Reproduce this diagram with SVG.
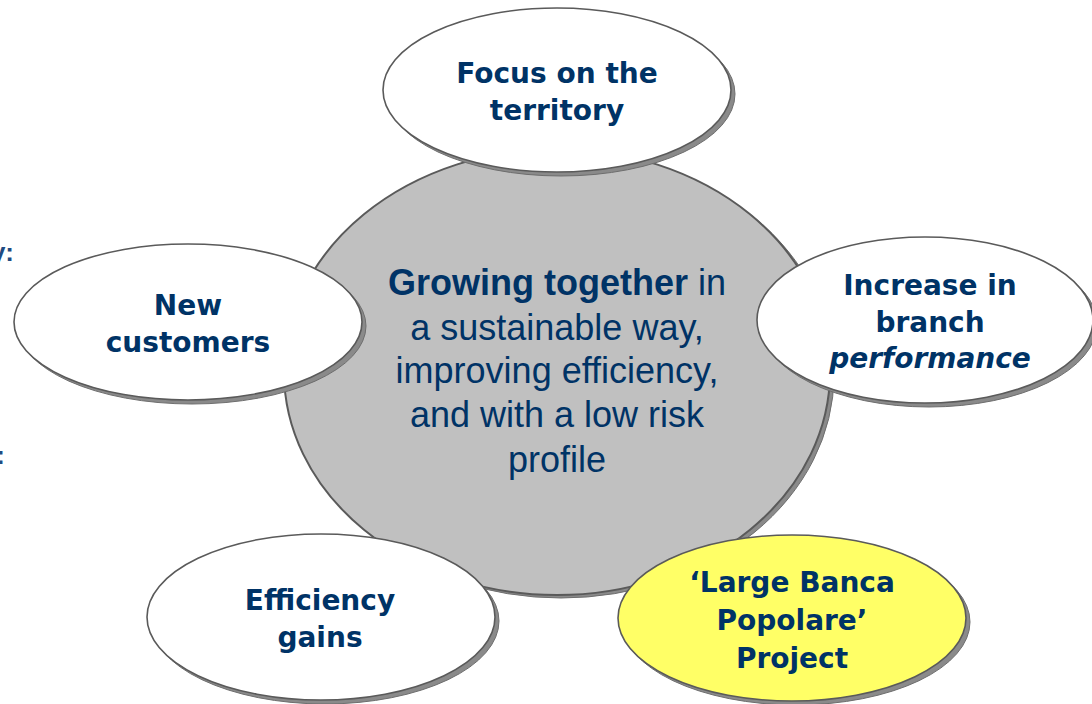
<svg xmlns="http://www.w3.org/2000/svg" width="1092" height="704" viewBox="0 0 1092 704">
<style>
.shadow{fill:#8a8a8a;stroke:#6e6e6e;stroke-width:1}
.node{fill:#ffffff;stroke:#5a5a5a;stroke-width:1.6}
.hub{fill:#c0c0c0;stroke:#5a5a5a;stroke-width:2}
.yellow{fill:#ffff66}
.lbl{font-family:"DejaVu Sans",Verdana,sans-serif;font-weight:bold;font-size:28px;fill:#003366;text-anchor:middle}
.ctr{font-family:"Liberation Sans",Arial,sans-serif;font-size:36px;fill:#003366;text-anchor:middle}
.frag{font-family:"Liberation Sans",Arial,sans-serif;font-weight:bold;font-size:26px;fill:#1f4b82;text-anchor:end}
</style>
<rect width="1092" height="704" fill="#ffffff"/>
<text class="frag" x="14" y="261">y:</text>
<text class="frag" x="4.8" y="464">:</text>
<g id="connectors"/>
<g id="hub">
<ellipse class="shadow" cx="561" cy="375" rx="273" ry="223"/>
<ellipse class="hub" cx="557" cy="372" rx="273" ry="223"/>
<text class="ctr" x="557" y="295"><tspan font-weight="bold">Growing together</tspan> in</text>
<text class="ctr" x="557" y="340">a sustainable way,</text>
<text class="ctr" x="557" y="383">improving efficiency,</text>
<text class="ctr" x="557" y="427">and with a low risk</text>
<text class="ctr" x="557" y="472">profile</text>
</g>
<g id="focus">
<ellipse class="shadow" cx="561" cy="94" rx="174" ry="82"/>
<ellipse class="node" cx="557" cy="90" rx="174" ry="82"/>
<text class="lbl" x="557" y="83">Focus on the</text>
<text class="lbl" x="557" y="120">territory</text>
</g>
<g id="new-customers">
<ellipse class="shadow" cx="192" cy="326" rx="174" ry="78"/>
<ellipse class="node" cx="188" cy="322" rx="174" ry="78"/>
<text class="lbl" x="188" y="315">New</text>
<text class="lbl" x="188" y="352">customers</text>
</g>
<g id="branch-performance">
<ellipse class="shadow" cx="929" cy="324" rx="168" ry="83"/>
<ellipse class="node" cx="925" cy="320" rx="168" ry="83"/>
<text class="lbl" x="930" y="295">Increase in</text>
<text class="lbl" x="930" y="332">branch</text>
<text class="lbl" x="930" y="368" font-style="italic">performance</text>
</g>
<g id="efficiency">
<ellipse class="shadow" cx="325" cy="621" rx="174" ry="83"/>
<ellipse class="node" cx="321" cy="617" rx="174" ry="83"/>
<text class="lbl" x="320" y="610">Efficiency</text>
<text class="lbl" x="320" y="647">gains</text>
</g>
<g id="large-banca">
<ellipse class="shadow" cx="796" cy="622" rx="174" ry="83"/>
<ellipse class="node yellow" cx="792" cy="618" rx="174" ry="83"/>
<text class="lbl" x="792" y="592">‘Large Banca</text>
<text class="lbl" x="792" y="630">Popolare’</text>
<text class="lbl" x="792" y="668">Project</text>
</g>
</svg>
